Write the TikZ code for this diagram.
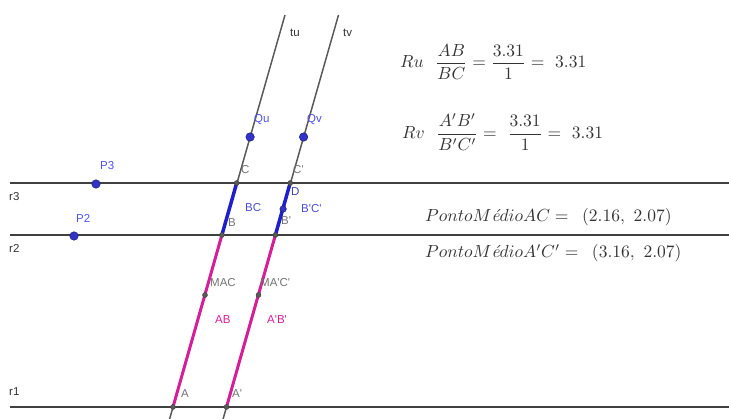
\documentclass[tikz,border=0pt]{standalone}
\usepackage{amsmath}
\usepackage{fontspec}
\newfontfamily\labfont{Liberation Sans}
\definecolor{magc}{RGB}{214,30,150}
\definecolor{bseg}{RGB}{30,30,205}
\definecolor{bpt}{RGB}{50,50,200}
\definecolor{blab}{RGB}{80,80,235}
\definecolor{glab}{RGB}{115,115,115}
\tikzset{
  hline/.style={draw=black!75, line width=1.5pt},
  tline/.style={draw=black!65, line width=1.5pt},
  magseg/.style={draw=magc, line width=3pt},
  blueseg/.style={draw=bseg, line width=3.5pt},
  bluept/.style={circle, fill=bpt, draw=bpt!60!black, line width=0.5pt, inner sep=0pt, minimum size=8.5pt},
  darkpt/.style={circle, fill=black!65, draw=black!75, inner sep=0pt, minimum size=5pt},
  lab/.style={font=\labfont\fontsize{11.5}{12}\selectfont, inner sep=0pt, anchor=west},
  mathlab/.style={inner sep=0pt, anchor=west, text=black!80},
}
\begin{document}
\begin{tikzpicture}[x=1pt,y=-1pt]
\useasboundingbox (0,0) rectangle (729,419);
% horizontal lines
\coordinate (r3a) at (10,183); \coordinate (r3b) at (729,183);
\coordinate (r2a) at (10,235); \coordinate (r2b) at (729,235);
\coordinate (r1a) at (10,407); \coordinate (r1b) at (729,407);
\draw[hline] (r3a) -- (r3b);
\draw[hline] (r2a) -- (r2b);
\draw[hline] (r1a) -- (r1b);
% slanted lines
\coordinate (tubot) at (169.6,419); \coordinate (tutop) at (285,15);
\coordinate (tvbot) at (223.1,419); \coordinate (tvtop) at (338.5,15);
\draw[tline] (tubot) -- (tutop);
\draw[tline] (tvbot) -- (tvtop);
% points on tu
\coordinate (A) at (173,407);
\coordinate (B) at (221.9,235);
\coordinate (C) at (236.7,183);
\coordinate (MAC) at (205,295);
\coordinate (Qu) at (250.1,137);
% points on tv
\coordinate (A') at (226.5,407);
\coordinate (B') at (275.4,235);
\coordinate (C') at (290.2,183);
\coordinate (MA'C') at (258.5,295);
\coordinate (Qv) at (303.6,137);
\coordinate (D) at (283.1,209);
% segments
\draw[magseg] (A) -- (B);
\draw[magseg] (A') -- (B');
\draw[blueseg] (B) -- (C);
\draw[blueseg] (B') -- (C');
% dark points
\foreach \p in {A,B,C,MAC,A',B',C',MA'C'} \node[darkpt] at (\p) {};
% blue points
\node[bluept] (P3) at (96,184) {};
\node[bluept] (P2) at (74,236) {};
\node[bluept] (Qupt) at (Qu) {};
\node[bluept] (Qvpt) at (Qv) {};
\node[bluept, minimum size=6.5pt] (Dpt) at (D) {};
% labels
\node[lab, text=black!80] (lr3) at (9,197) {r3};
\node[lab, text=black!80] (lr2) at (9,248) {r2};
\node[lab, text=black!80] (lr1) at (9,392) {r1};
\node[lab, text=black!80] (ltu) at (290,33) {tu};
\node[lab, text=black!80] (ltv) at (343,33) {tv};
\node[lab, text=blab] (lP3) at (100,166) {P3};
\node[lab, text=blab] (lP2) at (76,218) {P2};
\node[lab, text=blab] (lQu) at (254,120) {Qu};
\node[lab, text=blab] (lQv) at (307,120) {Qv};
\node[lab, text=glab] (lC) at (241,170) {C};
\node[lab, text=glab] (lC') at (293,170) {C'};
\node[lab, text=blab!80!black] (lD) at (291,192) {D};
\node[lab, text=glab] (lB) at (228,223) {B};
\node[lab, text=glab] (lB') at (281,221) {B'};
\node[lab, text=bseg!80] (lBC) at (245,208) {BC};
\node[lab, text=bseg!80] (lB'C') at (301,209) {B'C'};
\node[lab, text=glab] (lMAC) at (210,283) {MAC};
\node[lab, text=glab] (lMA'C') at (260,283) {MA'C'};
\node[lab, text=magc] (lAB) at (215,320) {AB};
\node[lab, text=magc] (lA'B') at (267,320) {A'B'};
\node[lab, text=glab] (lA) at (181,394) {A};
\node[lab, text=glab] (lA') at (232,394) {A'};
% text on the right
\node[mathlab] (Ru) at (400,62) {\scalebox{1.75}{$Ru\ \ \dfrac{AB}{BC} = \dfrac{3.31}{1} = \ 3.31$}};
\node[mathlab] (Rv) at (402,132) {\scalebox{1.75}{$Rv\ \ \dfrac{A'B'}{B'C'} = \ \dfrac{3.31}{1} = \ 3.31$}};
\node[mathlab] (PM1) at (425,217) {\scalebox{1.75}{$PontoM\text{\itshape é}dioAC = \ \,(2.16,\ 2.07)$}};
\node[mathlab] (PM2) at (425,253) {\scalebox{1.75}{$PontoM\text{\itshape é}dioA'C' = \ \,(3.16,\ 2.07)$}};
\end{tikzpicture}
\end{document}
